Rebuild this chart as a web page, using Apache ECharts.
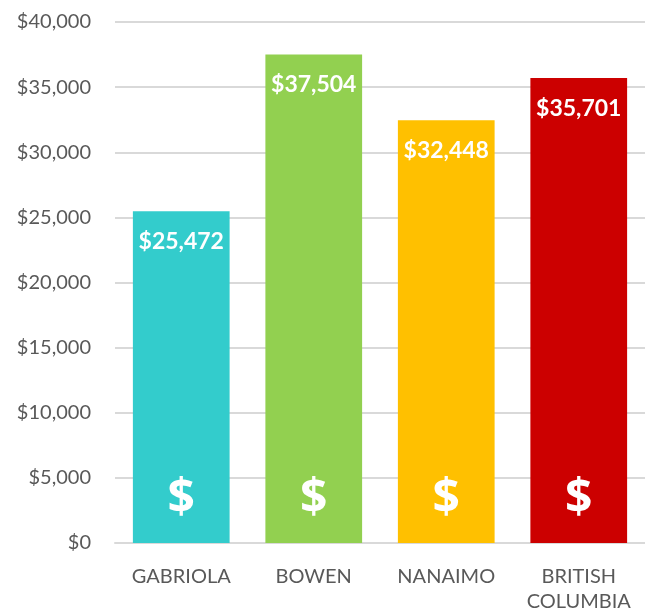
<!DOCTYPE html>
<html>
<head>
<meta charset="utf-8">
<script src="https://cdn.jsdelivr.net/npm/echarts@6/dist/echarts.min.js"></script>
<style>
  html, body { margin: 0; padding: 0; background: #fff; }
  #main { width: 645px; height: 611px; }
</style>
</head>
<body>
<div id="main"></div>
<script>
var categories = ['GABRIOLA', 'BOWEN', 'NANAIMO', 'BRITISH\nCOLUMBIA'];
var incomes = [25472, 37504, 32448, 35701];
var barColors = ['#33CCCC', '#92D050', '#FFC000', '#CC0000'];

var myChart = echarts.init(document.getElementById('main'));

function money(v) {
    return '$' + v.toString().replace(/\B(?=(\d{3})+(?!\d))/g, ',');
}

var option = {
    backgroundColor: '#fff',
    animation: false,
    grid: {
        left: 115,
        right: 0,
        top: 22,
        bottom: 68,
        outerBoundsMode: 'none'
    },
    xAxis: {
        type: 'category',
        data: categories,
        axisTick: { show: false },
        axisLine: { lineStyle: { color: '#d9d9d9', width: 2 } },
        axisLabel: {
            color: '#595959',
            fontFamily: 'Lato',
            fontSize: 20,
            lineHeight: 25,
            margin: 21,
            interval: 0
        }
    },
    yAxis: {
        type: 'value',
        min: 0,
        max: 40000,
        interval: 5000,
        axisLine: { show: false },
        axisTick: { show: false },
        splitLine: { lineStyle: { color: '#d9d9d9', width: 2 } },
        axisLabel: {
            color: '#595959',
            fontFamily: 'Lato',
            fontSize: 20,
            margin: 24,
            formatter: money
        }
    },
    series: [{
        type: 'bar',
        barWidth: '73%',
        data: incomes.map(function (v, i) {
            return { value: v, itemStyle: { color: barColors[i] } };
        }),
        label: {
            show: true,
            position: 'insideTop',
            distance: 19,
            color: '#fff',
            fontFamily: 'Lato',
            fontWeight: 'bold',
            fontSize: 23,
            formatter: function (p) { return money(p.value); }
        }
    }, {
        type: 'bar',
        barWidth: '73%',
        barGap: '-100%',
        silent: true,
        itemStyle: { color: 'rgba(0,0,0,0)' },
        data: incomes,
        label: {
            show: true,
            position: 'insideBottom',
            distance: 20,
            color: '#fff',
            fontFamily: 'Open Sans',
            fontWeight: 'bold',
            fontSize: 48,
            formatter: '$'
        }
    }]
};

myChart.setOption(option);
</script>
</body>
</html>
